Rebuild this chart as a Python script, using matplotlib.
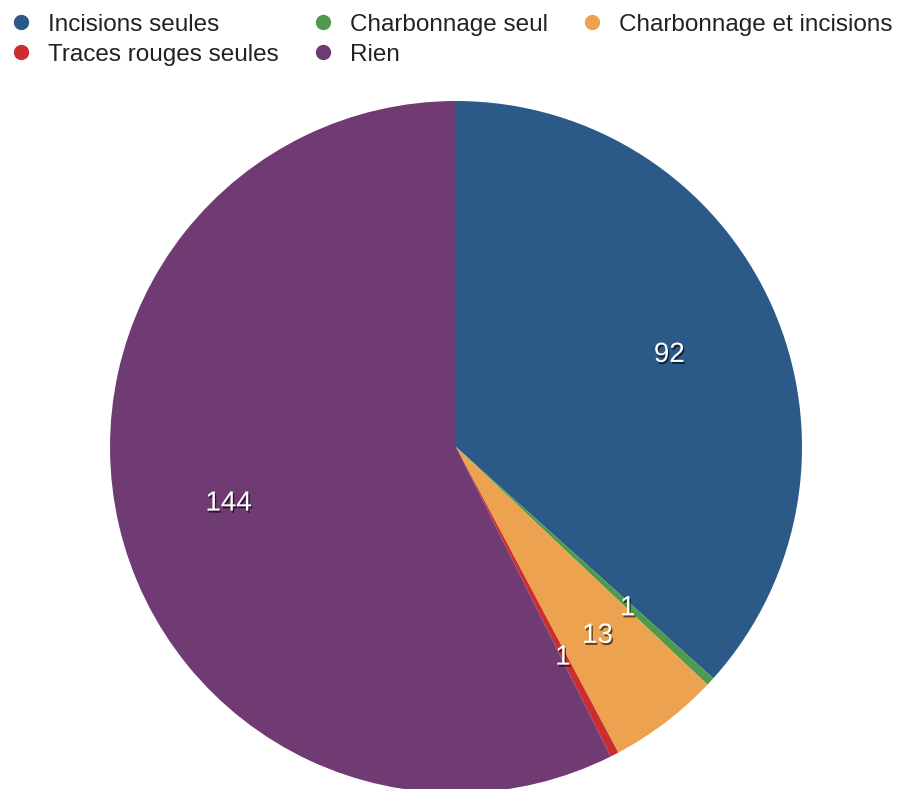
import matplotlib
matplotlib.use('Agg')
from matplotlib import pyplot as plt
from matplotlib.lines import Line2D
import matplotlib.patheffects as pe

# Données du graphique
categories = ['Incisions seules', 'Charbonnage seul', 'Charbonnage et incisions',
              'Traces rouges seules', 'Rien']
values = [92, 1, 13, 1, 144]
colors = ['#2c5a88', '#4f9a4d', '#eca24f', '#cc2e30', '#6f3b72']

plt.rcParams['font.family'] = ['Liberation Sans', 'DejaVu Sans']

fig = plt.figure(figsize=(9.03, 7.89), dpi=100)
W, H = 903, 789
cx, cy, r = 456, 447, 346
ax = fig.add_axes([(cx - r) / W, (H - cy - r) / H, 2 * r / W, 2 * r / H])

wedges, texts = ax.pie(values, colors=colors, startangle=90, counterclock=False,
                       labels=[str(v) for v in values], labeldistance=0.675,
                       wedgeprops=dict(linewidth=0))
for t in texts:
    t.set_color('white')
    t.set_fontsize(20)
    t.set_ha('center')
    t.set_va('center_baseline')
    t.set_path_effects([pe.SimplePatchShadow(offset=(1, -1.5), shadow_rgbFace='black', alpha=0.6),
                        pe.Normal()])
ax.set_xlim(-1, 1)
ax.set_ylim(-1, 1)
ax.set_aspect('auto')

# Légende (remplissage par colonnes dans matplotlib)
order = [0, 3, 1, 4, 2]
handles = [Line2D([], [], marker='o', linestyle='none', markersize=10,
                  markerfacecolor=colors[i], markeredgecolor=colors[i]) for i in order]
labels = [categories[i] for i in order]
leg = fig.legend(handles, labels, ncol=3, loc='upper left', bbox_to_anchor=(-0.001, 0.998),
                 frameon=False, fontsize=17.5, handlelength=0.8, handletextpad=0.71,
                 columnspacing=1.41, labelspacing=0.33, borderpad=0.3, borderaxespad=0.2)
for t in leg.get_texts():
    t.set_color('#222222')

plt.savefig('out.png', dpi=100)
